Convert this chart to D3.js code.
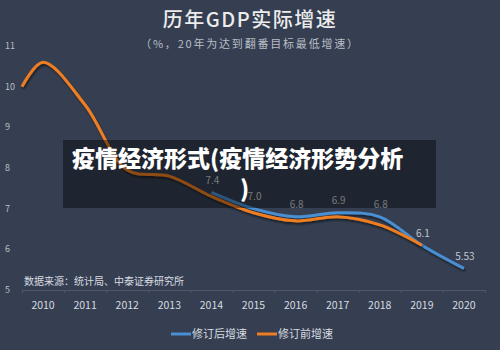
<!DOCTYPE html>
<html><head><meta charset="utf-8">
<script src="https://cdn.jsdelivr.net/npm/d3@7"></script>
<style>
html,body{margin:0;padding:0;background:#353f51;}
svg{display:block;}
text{font-family:"Noto Sans CJK SC","Noto Sans",sans-serif;}
</style></head>
<body><svg id="c" width="500" height="350"></svg>
<script>
const years = [2010,2011,2012,2013,2014,2015,2016,2017,2018,2019,2020];
const yTicks = [5,6,7,8,9,10,11];
// 修订前增速 (orange), with leading value shown at the left edge of the axis
const orangeLead = {year: 2009.5, value: 10.0};
const orangeYears = [2010,2011,2012,2013,2014,2015,2016,2017,2018,2019];
const orangeValues = [10.6,9.55,7.95,7.8,7.3,6.9,6.7,6.8,6.6,6.1];
// 修订后增速 (blue)
const blueYears = [2014,2015,2016,2017,2018,2019,2020];
const blueValues = [7.4,7.0,6.8,6.9,6.8,6.1,5.53];
const blueLabels = ["7.4","7.0","6.8","6.9","6.8","6.1","5.53"];
const seriesNames = ["修订后增速","修订前增速"];
const colors = {blue:"#4a8fd4", orange:"#ef7d22"};

const svg = d3.select("#c");
const x = d3.scaleLinear().domain([2009.5, 2020.5]).range([22, 485]);
const y = d3.scaleLinear().domain([5, 11]).range([290, 46]);

const defs = svg.append("defs");
const f = defs.append("filter").attr("id","sh").attr("x","-10%").attr("y","-10%").attr("width","120%").attr("height","130%");
f.append("feDropShadow").attr("dx",1).attr("dy",2).attr("stdDeviation",1.3).attr("flood-color","#000").attr("flood-opacity",0.55);

// titles
svg.append("text").attr("x",250).attr("y",27).attr("text-anchor","middle")
  .attr("font-size",20).attr("font-weight",500).attr("letter-spacing",1.5).attr("fill","#ececec").text("历年GDP实际增速");
svg.append("text").attr("x",250).attr("y",48).attr("text-anchor","middle")
  .attr("font-size",11).attr("letter-spacing",1.8).attr("fill","#b9bec6").text("（%，20年为达到翻番目标最低增速）");

// y axis labels
svg.append("g").selectAll("text").data(yTicks).join("text")
  .attr("x",5).attr("y",d=>y(d)).attr("dy","0.35em")
  .attr("font-size",9).attr("fill","#b9bec6").text(d=>d);

// x axis
const xAxis = d3.axisBottom(x).tickValues(d3.range(2009.5, 2021, 1)).tickSize(3).tickFormat("");
const gx = svg.append("g").attr("transform",`translate(0,${y(5)})`).call(xAxis);
gx.select(".domain").attr("stroke","#4d5869");
gx.selectAll(".tick line").attr("stroke","#4d5869");
svg.append("g").selectAll("text").data(years).join("text")
  .attr("x",d=>x(d)).attr("y",309).attr("text-anchor","middle")
  .attr("font-size",10.5).attr("fill","#d8dbe0").text(d=>d);

// source
svg.append("text").attr("x",24).attr("y",284.5).attr("font-size",10).attr("fill","#d8dbe0")
  .text("数据来源：统计局、中泰证券研究所");

const line = d3.line().x(d=>x(d.year)).y(d=>y(d.value)).curve(d3.curveCatmullRom.alpha(0.5));
const blueData = blueYears.map((yr,i)=>({year:yr,value:blueValues[i]}));
const orangeData = [orangeLead].concat(orangeYears.map((yr,i)=>({year:yr,value:orangeValues[i]})));

svg.append("path").datum(blueData).attr("d",line).attr("fill","none")
  .attr("stroke",colors.blue).attr("stroke-width",3).attr("filter","url(#sh)");
svg.append("path").datum(orangeData).attr("d",line).attr("fill","none")
  .attr("stroke",colors.orange).attr("stroke-width",3).attr("filter","url(#sh)");

// blue data labels
svg.append("g").selectAll("text").data(blueData).join("text")
  .attr("x",d=>x(d.year)+1).attr("y",d=>y(d.value)-8.5).attr("text-anchor","middle")
  .attr("font-size",10).attr("fill","#c3c7cd").text((d,i)=>blueLabels[i]);

// legend
const lg = svg.append("g");
const legendItems = [{name:seriesNames[0],color:colors.blue,x:171},{name:seriesNames[1],color:colors.orange,x:257}];
legendItems.forEach(it=>{
  lg.append("line").attr("x1",it.x).attr("x2",it.x+20).attr("y1",334).attr("y2",334)
    .attr("stroke",it.color).attr("stroke-width",3);
  lg.append("text").attr("x",it.x+21).attr("y",338).attr("font-size",11).attr("fill","#d8dbe0").text(it.name);
});

// overlay banner
svg.append("rect").attr("x",63).attr("y",140).attr("width",373).attr("height",68).attr("fill","rgba(0,0,0,0.4)");
const ov = svg.append("text").attr("font-size",23).attr("font-weight",900).attr("fill","#ffffff");
ov.append("tspan").attr("x",72).attr("y",167).text("疫情经济形式(疫情经济形势分析");
ov.append("tspan").attr("x",240).attr("y",197).text(")");
</script></body></html>
